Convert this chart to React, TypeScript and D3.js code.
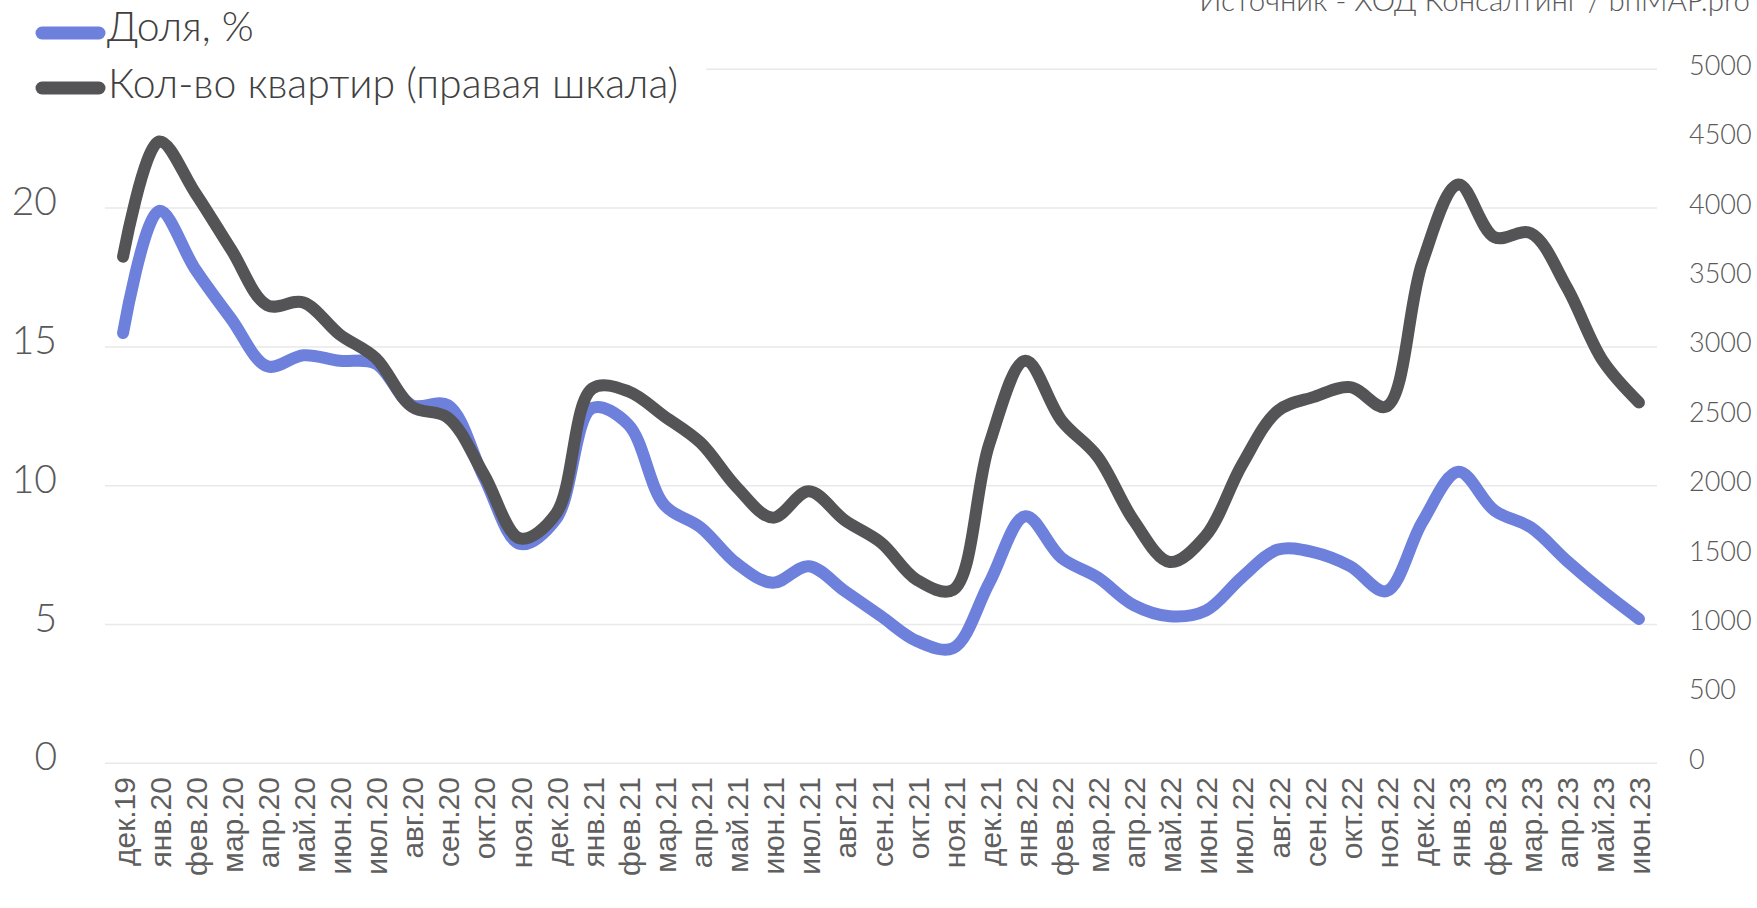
import React from "react";
import * as d3 from "d3";

const categories = [
  "дек.19", "янв.20", "фев.20", "мар.20", "апр.20", "май.20", "июн.20", "июл.20", "авг.20", "сен.20", "окт.20", "ноя.20", "дек.20",
  "янв.21", "фев.21", "мар.21", "апр.21", "май.21", "июн.21", "июл.21", "авг.21", "сен.21", "окт.21", "ноя.21", "дек.21",
  "янв.22", "фев.22", "мар.22", "апр.22", "май.22", "июн.22", "июл.22", "авг.22", "сен.22", "окт.22", "ноя.22", "дек.22",
  "янв.23", "фев.23", "мар.23", "апр.23", "май.23", "июн.23",
];

const shareValues = [
  15.5, 19.9, 17.8, 16.0, 14.3, 14.7, 14.5, 14.4, 12.9, 12.9, 10.3, 7.9, 8.8,
  12.8, 12.2, 9.3, 8.5, 7.2, 6.5, 7.1, 6.2, 5.3, 4.4, 4.15, 6.5,
  8.9, 7.4, 6.7, 5.7, 5.3, 5.5, 6.7, 7.7, 7.6, 7.1, 6.2, 8.7,
  10.5, 9.1, 8.5, 7.3, 6.2, 5.2,
];

const flatsValues = [
  3650, 4480, 4110, 3700, 3300, 3320, 3090, 2920, 2570, 2490, 2080, 1620, 1800,
  2700, 2680, 2500, 2310, 1990, 1770, 1960, 1750, 1590, 1320, 1250, 2300,
  2900, 2470, 2210, 1750, 1450, 1640, 2150, 2540, 2640, 2710, 2570, 3610,
  4170, 3790, 3820, 3430, 2900, 2600,
];

const leftTicks = [0, 5, 10, 15, 20, 25];
const rightTicks = [0, 500, 1000, 1500, 2000, 2500, 3000, 3500, 4000, 4500, 5000];

const seriesNames = ["Доля, %", "Кол-во квартир (правая шкала)"];
const sourceText = "Источник - ХОД Консалтинг / bnMAP.pro";

const W = 1757;
const H = 908;
const BLUE = "#6C80DC";
const DARK = "#545456";
const FONT = "Lato, 'Open Sans', sans-serif";

export default function App() {
  const x = d3.scaleBand<string>().domain(categories).range([105, 1657]);
  const cx = (c: string) => (x(c) as number) + x.bandwidth() / 2;
  const yL = d3.scaleLinear().domain([0, 25]).range([763.3, 69.3]);
  const yR = d3.scaleLinear().domain([0, 5000]).range([763.3, 69.3]);

  const lineL = d3
    .line<number>()
    .x((_, i) => cx(categories[i]))
    .y((d) => yL(d))
    .curve(d3.curveCatmullRom.alpha(0.5));
  const lineR = d3
    .line<number>()
    .x((_, i) => cx(categories[i]))
    .y((d) => yR(d))
    .curve(d3.curveCatmullRom.alpha(0.5));

  return (
    <div style={{ position: "absolute", left: 0, top: 0 }}>
      <svg width={W} height={H} style={{ display: "block", background: "#fff" }}>
        {/* gridlines */}
        {leftTicks.map((t) => (
          <line key={"g" + t} x1={105} x2={1657} y1={yL(t)} y2={yL(t)} stroke="#E9E9E9" strokeWidth={1.5} />
        ))}
        {/* left axis labels */}
        {leftTicks.map((t) => (
          <text key={"l" + t} x={57} y={yL(t) + 7} textAnchor="end" fontFamily={FONT} fontWeight={300} fontSize={39} fill="#595959">
            {t}
          </text>
        ))}
        {/* right axis labels */}
        {rightTicks.map((t) => (
          <text key={"r" + t} x={1689} y={yR(t) + 5.5} textAnchor="start" fontFamily={FONT} fontWeight={300} fontSize={27} fill="#595959">
            {t}
          </text>
        ))}
        {/* x labels */}
        {categories.map((c) => (
          <text
            key={"x" + c}
            transform={`translate(${cx(c) + 11.5},777) rotate(-90)`}
            textAnchor="end"
            fontFamily="'Liberation Sans', Arial, sans-serif"
            fontSize={30}
            fill="#5f5f5f"
          >
            {c}
          </text>
        ))}
        {/* series */}
        <path d={lineL(shareValues) || ""} fill="none" stroke={BLUE} strokeWidth={12} strokeLinecap="round" strokeLinejoin="round" />
        <path d={lineR(flatsValues) || ""} fill="none" stroke={DARK} strokeWidth={12} strokeLinecap="round" strokeLinejoin="round" />
        {/* legend box */}
        <rect x={0} y={0} width={706} height={112} fill="#fff" />
        <line x1={42} x2={99} y1={33} y2={33} stroke={BLUE} strokeWidth={13} strokeLinecap="round" />
        <text x={107} y={41} fontFamily={FONT} fontWeight={300} fontSize={41} fill="#404040">
          {seriesNames[0]}
        </text>
        <line x1={42} x2={99} y1={88} y2={88} stroke={DARK} strokeWidth={13} strokeLinecap="round" />
        <text x={108} y={98} fontFamily={FONT} fontWeight={300} fontSize={41} fill="#404040">
          {seriesNames[1]}
        </text>
        {/* source */}
        <text x={1750} y={11} textAnchor="end" fontFamily={FONT} fontWeight={300} fontSize={29.5} fill="#595959">
          {sourceText}
        </text>
      </svg>
    </div>
  );
}
